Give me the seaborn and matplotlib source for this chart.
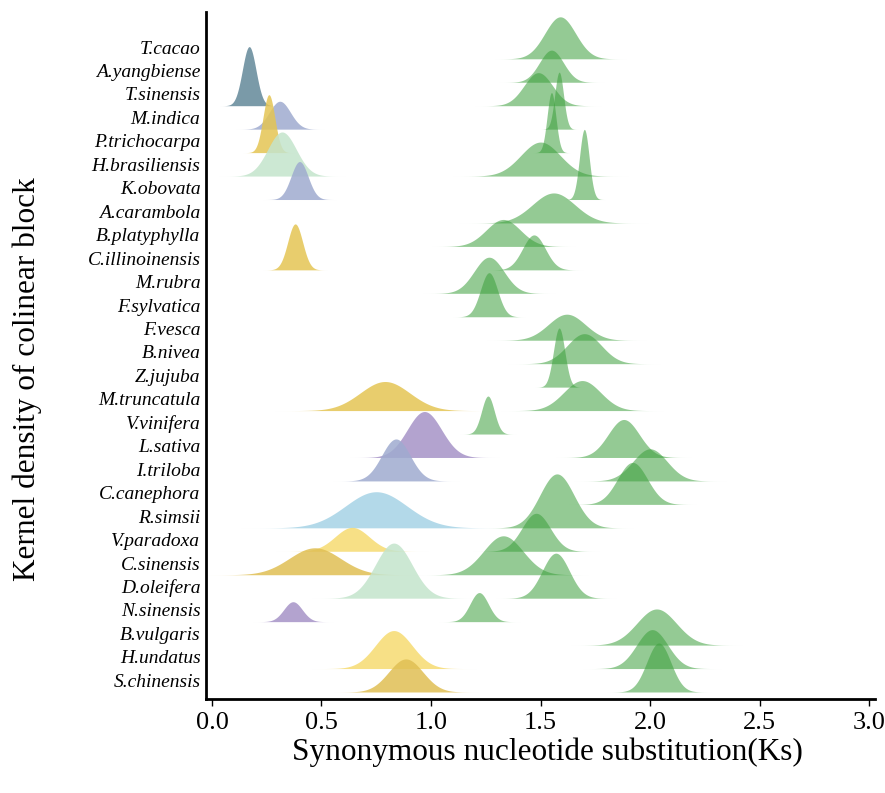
import numpy as np
import pandas as pd
import matplotlib
matplotlib.use("Agg")
import matplotlib.pyplot as plt
import seaborn as sns

# ---------------- data ----------------
species = ["T.cacao", "A.yangbiense", "T.sinensis", "M.indica", "P.trichocarpa",
           "H.brasiliensis", "K.obovata", "A.carambola", "B.platyphylla",
           "C.illinoinensis", "M.rubra", "F.sylvatica", "F.vesca", "B.nivea",
           "Z.jujuba", "M.truncatula", "V.vinifera", "L.sativa", "I.triloba",
           "C.canephora", "R.simsii", "V.paradoxa", "C.sinensis", "D.oleifera",
           "N.sinensis", "B.vulgaris", "H.undatus", "S.chinensis"]

# recent (lineage-specific) Ks peaks
recent_species = ["T.sinensis", "M.indica", "P.trichocarpa", "H.brasiliensis",
                  "K.obovata", "C.illinoinensis", "M.truncatula", "L.sativa",
                  "I.triloba", "R.simsii", "V.paradoxa", "C.sinensis",
                  "D.oleifera", "N.sinensis", "H.undatus", "S.chinensis"]
recent_ks = [0.17, 0.31, 0.26, 0.32, 0.40, 0.38, 0.79, 0.97,
             0.84, 0.75, 0.64, 0.47, 0.83, 0.37, 0.83, 0.885]
recent_sd = [0.031, 0.048, 0.027, 0.065, 0.039, 0.034, 0.113, 0.078,
             0.065, 0.14, 0.078, 0.117, 0.084, 0.042, 0.084, 0.078]
recent_height = [2.52, 1.19, 2.47, 1.88, 1.62, 1.96, 1.24, 1.96,
                 1.79, 1.54, 1.02, 1.15, 2.35, 0.85, 1.62, 1.41]
recent_group = ["slate", "lavender", "yellow", "mint", "lavender", "yellow",
                "yellow", "purple", "lavender", "skyblue", "lightyellow",
                "gold", "mint", "purple", "lightyellow", "gold"]

# shared (gamma) Ks peak for every species
shared_ks = [1.59, 1.55, 1.49, 1.585, 1.55, 1.50, 1.70, 1.56, 1.33, 1.47,
             1.265, 1.265, 1.62, 1.70, 1.585, 1.69, 1.26, 1.88, 2.00, 1.92,
             1.575, 1.48, 1.33, 1.57, 1.22, 2.03, 2.01, 2.04]
shared_sd = [0.07, 0.055, 0.065, 0.02, 0.02, 0.09, 0.022, 0.097, 0.078, 0.052,
             0.068, 0.039, 0.084, 0.078, 0.026, 0.084, 0.029, 0.071, 0.078,
             0.068, 0.078, 0.065, 0.09, 0.062, 0.042, 0.09, 0.071, 0.055]
shared_height = [1.79, 1.37, 1.41, 2.43, 2.56, 1.45, 2.99, 1.28, 1.15, 1.49,
                 1.54, 1.88, 1.11, 1.28, 2.52, 1.28, 1.62, 1.62, 1.37, 1.79,
                 2.30, 1.62, 1.66, 1.92, 1.24, 1.54, 1.66, 2.09]

group_colors = {"slate": "#638899", "lavender": "#9FABCF", "yellow": "#E4C554",
                "mint": "#C4E4CC", "purple": "#A693C7", "skyblue": "#A6D3E6",
                "lightyellow": "#F6DB71", "gold": "#E0BF54", "shared": "#3CA03C"}
group_alpha = {"shared": 0.55}

# ---------------- style ----------------
sns.set_theme(style="ticks")
plt.rcParams["font.family"] = ["Liberation Serif", "DejaVu Serif"]
plt.rcParams["text.color"] = "black"
plt.rcParams["axes.labelcolor"] = "black"
plt.rcParams["xtick.color"] = "black"
plt.rcParams["ytick.color"] = "black"

n = len(species)
baseline = {s: (n - 1 - i) for i, s in enumerate(species)}

peaks = pd.DataFrame({
    "species": recent_species + species,
    "ks": recent_ks + shared_ks,
    "sd": recent_sd + shared_sd,
    "height": recent_height + shared_height,
    "group": recent_group + ["shared"] * n,
})
peaks["row"] = peaks["species"].map(species.index)
peaks["is_shared"] = peaks["group"] == "shared"
peaks = peaks.sort_values(["row", "is_shared"]).reset_index(drop=True)

fig = plt.figure(figsize=(8.85, 7.93), dpi=100)
ax = fig.add_axes([0.2328, 0.1185, 0.7559, 0.8665])

for _, p in peaks.iterrows():
    x = np.linspace(p.ks - 4.5 * p.sd, p.ks + 4.5 * p.sd, 300)
    y = p.height * np.exp(-0.5 * ((x - p.ks) / p.sd) ** 2)
    b = baseline[p.species]
    ax.fill_between(x, b, b + y, color=group_colors[p.group],
                    alpha=group_alpha.get(p.group, 0.85), linewidth=0,
                    zorder=2 + p.row)

ax.set_xlim(-0.027, 3.027)
ax.set_ylim(-0.3, 29.0)
ax.set_xticks([0.0, 0.5, 1.0, 1.5, 2.0, 2.5, 3.0])
ax.set_xticklabels(["0.0", "0.5", "1.0", "1.5", "2.0", "2.5", "3.0"], fontsize=19)
ax.set_yticks([baseline[s] + 0.5 for s in species])
ax.set_yticklabels(species, fontsize=14, fontstyle="italic")
ax.tick_params(axis="y", length=0, pad=4)
ax.tick_params(axis="x", length=5, width=1, color="black", pad=4)

sns.despine(ax=ax)
for sp in ["left", "bottom"]:
    ax.spines[sp].set_linewidth(2)
    ax.spines[sp].set_color("black")

ax.set_xlabel("Synonymous nucleotide substitution(Ks)", fontsize=22.5)
ax.set_ylabel("Kernel density of colinear block", fontsize=22.5)
ax.xaxis.set_label_coords(0.511, -0.056)
ax.yaxis.set_label_coords(-0.245, 0.466)
ax.grid(False)

fig.savefig("out.png", dpi=100)
